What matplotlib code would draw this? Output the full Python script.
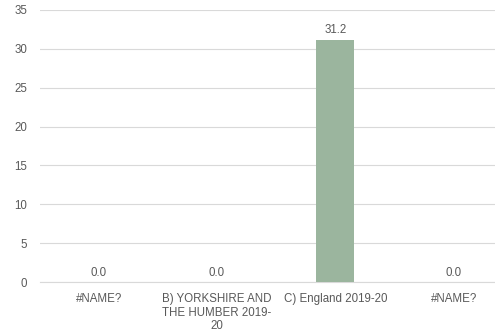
import matplotlib.pyplot as plt

# categories and values
categories = ["#NAME?", "B) YORKSHIRE AND\nTHE HUMBER 2019-\n20", "C) England 2019-20", "#NAME?"]
values = [0.0, 0.0, 31.2, 0.0]
yticks = [0, 5, 10, 15, 20, 25, 30, 35]

plt.rcParams['font.family'] = ['Liberation Sans', 'DejaVu Sans']
text_color = '#595959'
fs = 8.3

fig = plt.figure(figsize=(4.95, 3.33), dpi=100)
ax = fig.add_axes([0.080, 0.153, 0.956, 0.817])

x = range(len(categories))
ax.bar(x, values, width=0.32, color='#9BB59E', zorder=3)

for xi, v in zip(x, values):
    ax.text(xi, v + 0.4, f"{v:.1f}", ha='center', va='bottom', fontsize=fs, color=text_color)

ax.set_xlim(-0.5, len(categories) - 0.5)
ax.set_ylim(0, 35)
ax.set_yticks(yticks)
ax.set_xticks(list(x))
ax.set_xticklabels(categories, fontsize=fs, color=text_color, va='top', linespacing=1.15)
ax.tick_params(axis='y', labelsize=fs, labelcolor=text_color, length=0, pad=9)
ax.tick_params(axis='x', length=0, pad=8)

ax.grid(axis='y', color='#D9D9D9', linewidth=0.8, zorder=0)
for side in ['top', 'right', 'left']:
    ax.spines[side].set_visible(False)
ax.spines['bottom'].set_color('#D9D9D9')
ax.spines['bottom'].set_linewidth(0.8)

fig.savefig("out.png", dpi=100)
